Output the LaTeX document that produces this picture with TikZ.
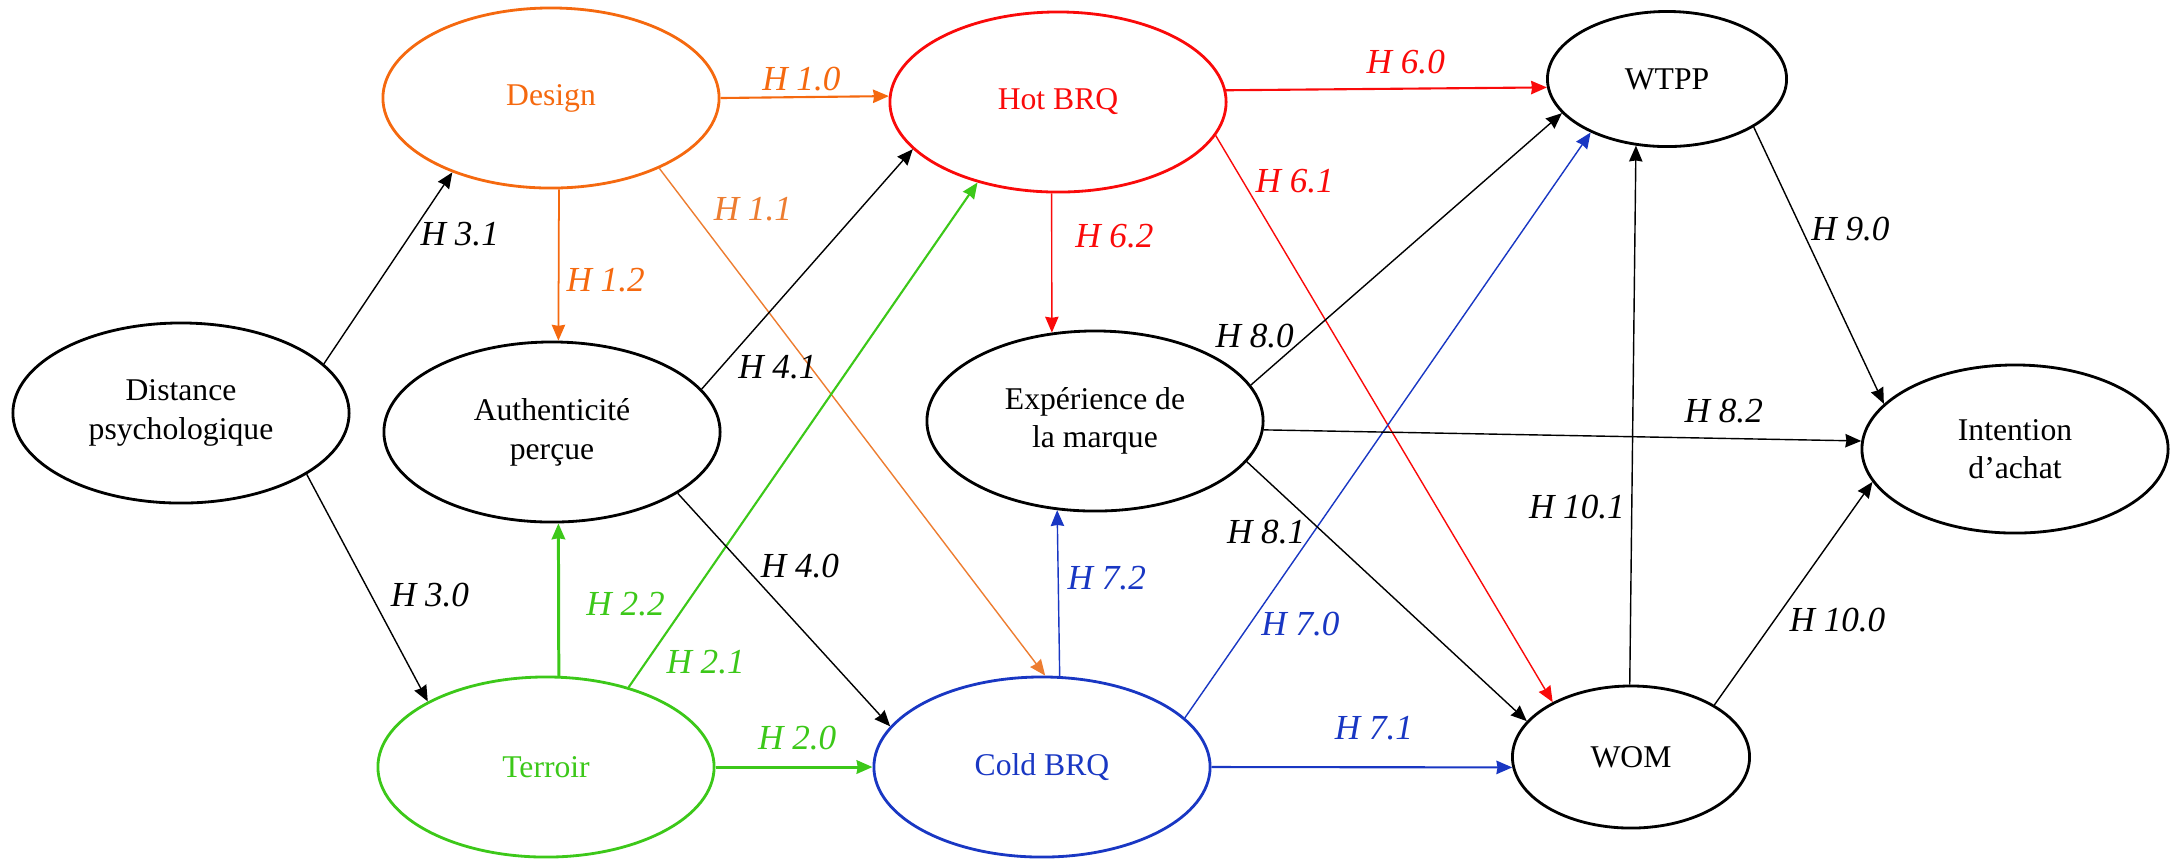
\documentclass[tikz,border=0pt]{standalone}
\usepackage{fontspec}
\setmainfont{Liberation Serif}
\usetikzlibrary{arrows.meta, positioning, shapes.geometric}

\definecolor{dorange}{RGB}{245,105,15}
\definecolor{lorange}{RGB}{237,125,49}
\definecolor{hred}{RGB}{250,10,10}
\definecolor{tgreen}{RGB}{60,200,25}
\definecolor{cblue}{RGB}{25,55,195}

\tikzset{
  construct/.style={draw, ellipse, line width=0.8pt, inner sep=0pt, align=center,
    minimum width=3.36cm, minimum height=1.8cm},
  hyp/.style={font=\itshape, inner sep=1.5pt},
  link/.style={line width=0.4pt},
  mid/.style={line width=0.6pt},
  boldlink/.style={line width=0.85pt}
}

\begin{document}
\begin{tikzpicture}[x=0.01cm, y=-0.01cm, >={Stealth[length=4.5pt, width=3.8pt, inset=0.3pt]},
    font=\fontsize{9pt}{11pt}\selectfont]
  \useasboundingbox (0,0) rectangle (2170,859);

  % constructs
  \node [construct] (dist) at (181,413) {Distance\\psychologique};
  \node [construct, dorange] (design) at (551,98) {Design};
  \node [construct] (auth) at (552,432) {Authenticité\\perçue};
  \node [construct, tgreen] (terroir) at (546,767) {Terroir};
  \node [construct, hred] (hot) at (1058,102) {Hot BRQ};
  \node [construct] (exp) at (1095,421) {Expérience de\\la marque};
  \node [construct, cblue] (cold) at (1042,767) {Cold BRQ};
  \node [construct, minimum width=2.39cm, minimum height=1.35cm] (wtpp) at (1667,79) {WTPP};
  \node [construct, minimum width=2.37cm, minimum height=1.42cm] (wom) at (1631,757) {WOM};
  \node [construct, minimum width=3.06cm, minimum height=1.68cm] (intent) at (2015,449) {Intention\\d'achat};

  % hypotheses
  \draw [dorange, mid, ->] (design.0) -- node [hyp, pos=0.48, above=0pt] {H 1.0} (hot.178.6);
  \draw [dorange, link, line width=0.5pt, ->] (design.-85.5) -- node [hyp, pos=0.6, right=0.5pt] {H 1.2} (auth.86.2);
  \draw [lorange, link, ->] (design.-33.7) -- node [hyp, pos=0.08, right=5pt] {H 1.1} (cold.88);
  \draw [tgreen, boldlink, ->] (terroir) -- node [hyp, pos=0.52, above=2.8pt] {H 2.0} (cold);
  \draw [tgreen, mid, ->] (terroir.44) -- node [hyp, pos=0.05, right=4pt] {H 2.1} (hot.225.3);
  \draw [tgreen, boldlink, ->] (terroir.82.4) -- node [hyp, pos=0.47, right=6pt] {H 2.2} (auth.-86.2);
  \draw [link, ->] (dist.-26.9) -- node [hyp, pos=0.53, right=4pt] {H 3.0} (terroir.151.6);
  \draw [link, ->] (dist.19.1) -- node [hyp, pos=0.68, right=1pt] {H 3.1} (design.217.9);
  \draw [link, ->] (auth.-26.7) -- node [hyp, pos=0.31, right=3.2pt] {H 4.0} (cold.165.9);
  \draw [link, ->] (auth.16.9) -- node [hyp, pos=0.09, right=3.3pt] {H 4.1} (hot.198.4);
  \draw [hred, mid, ->] (hot.4.45) -- node [hyp, pos=0.56, above=2.3pt] {H 6.0} (wtpp.184.8);
  \draw [hred, link, ->] (hot.-12.5) -- node [hyp, pos=0.08, right=2pt] {H 6.1} (wom.145.4);
  \draw [hred, link, ->] (hot.266.2) -- node [hyp, pos=0.31, right=5pt] {H 6.2} (exp.116.3);
  \draw [cblue, link, ->] (cold.19.4) -- node [hyp, pos=0.16, right=1.6pt] {H 7.0} (wtpp.215);
  \draw [cblue, mid, ->] (cold.0) -- node [hyp, pos=0.54, above=6pt] {H 7.1} (wom.185.3);
  \draw [cblue, link, ->] (cold.79.2) -- node [hyp, pos=0.59, right=1pt] {H 7.2} (exp.247.7);
  \draw [link, ->] (exp.13.2) -- node [hyp, pos=0.18, left=2pt] {H 8.0} (wtpp.198.6);
  \draw [link, ->] (exp.-15.5) -- node [hyp, pos=0.27, left=3.2pt] {H 8.1} (wom.161.9);
  \draw [link, ->] (exp.-3.6) -- node [hyp, pos=0.77, above=2.6pt] {H 8.2} (intent.177);
  \draw [link, ->] (wtpp.-29.4) -- node [hyp, pos=0.37, right=1pt] {H 9.0} (intent.161.7);
  \draw [link, ->] (wom.32.1) -- node [hyp, pos=0.38, right=2.6pt] {H 10.0} (intent.193.4);
  \draw [link, ->] (wom.91.4) -- node [hyp, pos=0.33, left=0.3pt] {H 10.1} (wtpp.245.3);
\end{tikzpicture}
\end{document}
